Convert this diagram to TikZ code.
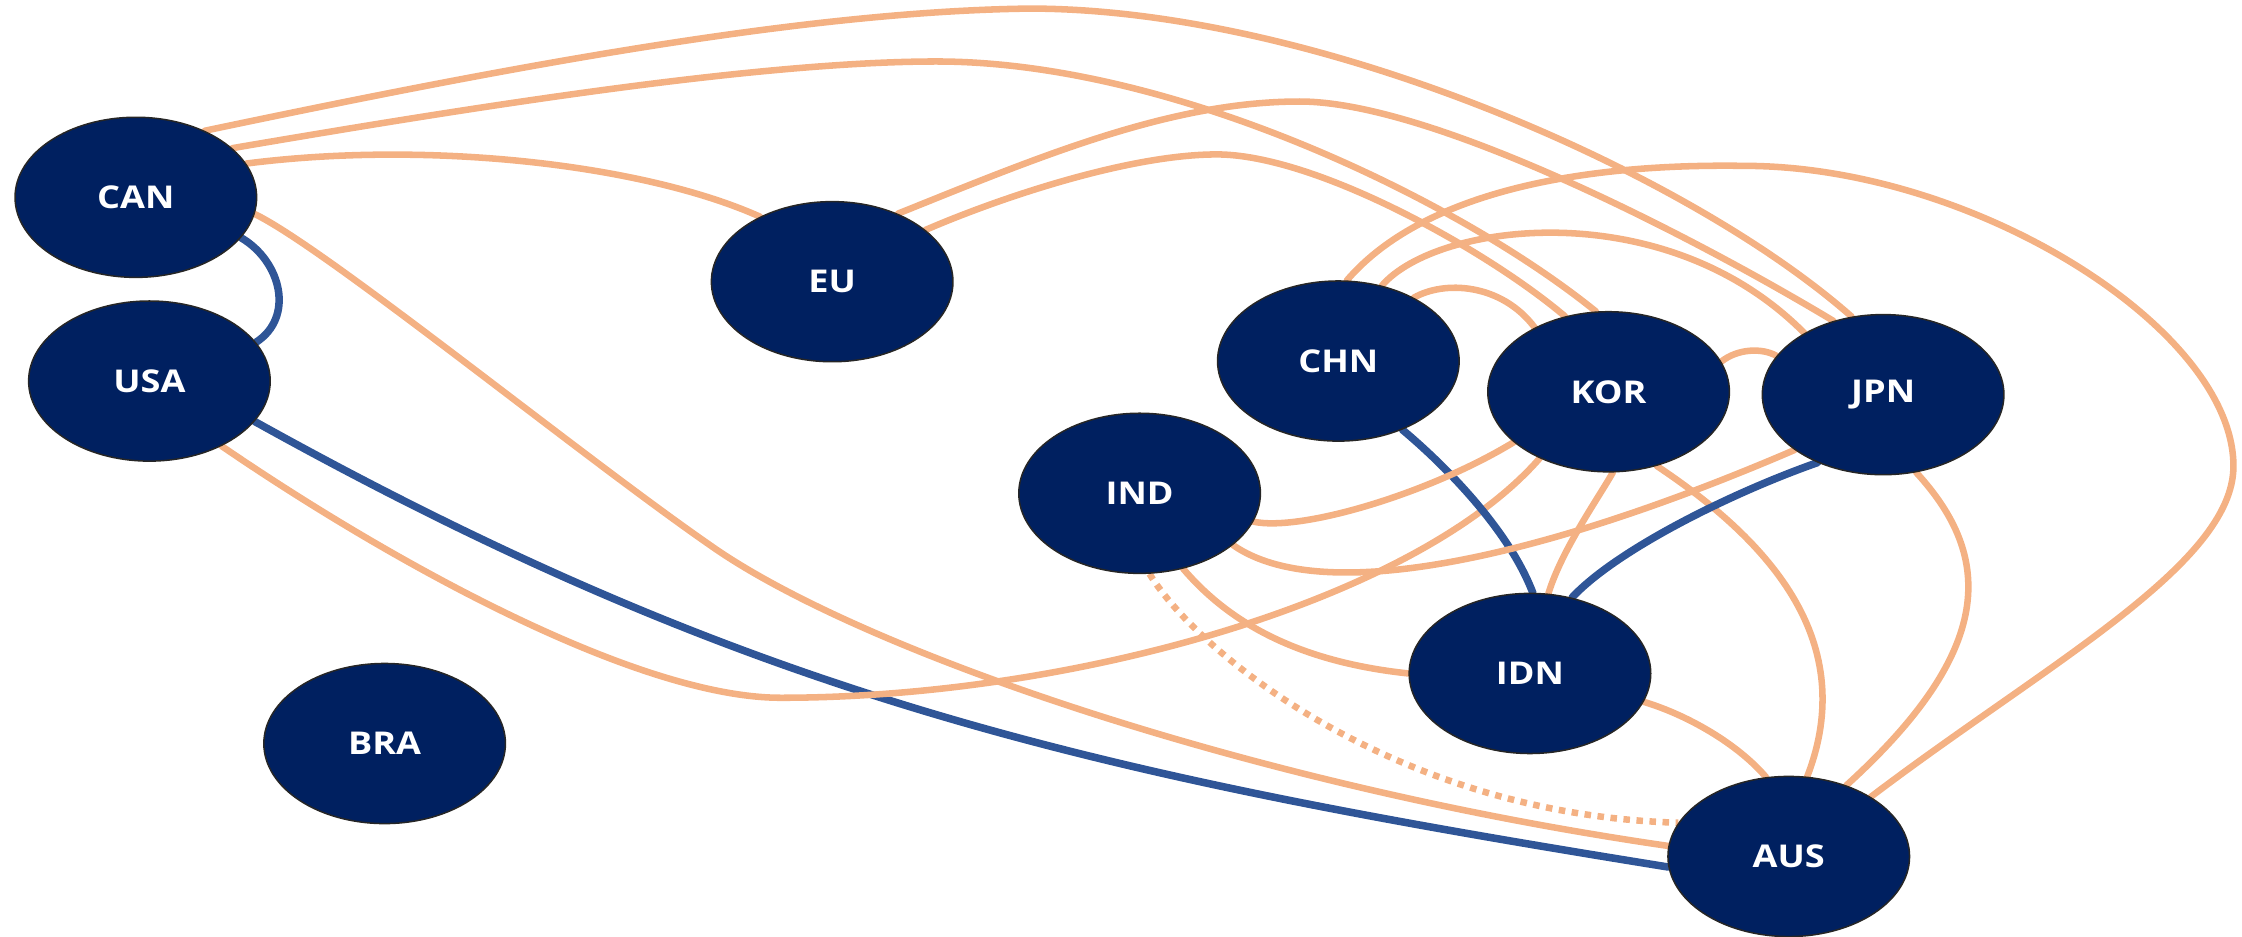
\documentclass[tikz,border=0pt]{standalone}
\usepackage{fontspec}
\setsansfont{Open Sans}
\usetikzlibrary{shapes.geometric,backgrounds}
\definecolor{navy}{RGB}{0,32,96}
\definecolor{peach}{RGB}{244,177,131}
\definecolor{linkblue}{RGB}{47,85,151}
\tikzset{
  country/.style={ellipse, fill=navy, draw=black!85, line width=0.6pt,
    minimum width=3.38cm, minimum height=2.24cm, inner sep=0pt,
    text=white, font=\sffamily\bfseries\fontsize{12.5}{14}\selectfont},
  orangelink/.style={draw=peach, line width=2.6pt, line cap=round},
  bluelink/.style={draw=linkblue, line width=3pt, line cap=round},
  dottedlink/.style={draw=peach, line width=2.6pt, dash pattern=on 2.6pt off 2.6pt}
}
\newcommand{\lbl}[1]{\scalebox{1.15}[1]{#1}}
\begin{document}
\begin{tikzpicture}[x=0.02cm, y=-0.02cm]
\useasboundingbox (0,0) rectangle (1568,655);
\node[country] (CAN) at (95,138) {\lbl{CAN}};
\node[country] (USA) at (104.5,266.5) {\lbl{USA}};
\node[country] (EU) at (582,197) {\lbl{EU}};
\node[country] (CHN) at (936,252.5) {\lbl{CHN}};
\node[country] (KOR) at (1125,274) {\lbl{KOR}};
\node[country] (JPN) at (1317,276) {\lbl{JPN}};
\node[country] (IND) at (797,345) {\lbl{IND}};
\node[country] (IDN) at (1070,471) {\lbl{IDN}};
\node[country] (BRA) at (269,520) {\lbl{BRA}};
\node[country] (AUS) at (1251,599) {\lbl{AUS}};
\coordinate (topA) at (720,6);
\coordinate (topB) at (655,43);
\coordinate (topC) at (909,71);
\coordinate (topD) at (851,108);
\coordinate (midE) at (502,385);
\coordinate (lowF) at (546,488);
\coordinate (arcG) at (1220,116);
\coordinate (arcH) at (1562,326);
\begin{pgfonlayer}{background}
% CAN links
\draw[bluelink] (CAN.-21) .. controls (197,183) and (206,222) .. (USA.20);
\draw[orangelink] (CAN.44) .. controls (350,48) and (560,8) .. (topA)
   .. controls (920,6) and (1180,120) .. (JPN.112);
\draw[orangelink] (CAN.27) .. controls (330,75) and (530,43) .. (topB)
   .. controls (820,43) and (1020,140) .. (KOR.99);
\draw[orangelink] (CAN.17) .. controls (300,98) and (450,115) .. (EU.138);
\draw[orangelink] (CAN.-8) .. controls (230,175) and (410,322) .. (midE)
   .. controls (610,458) and (880,550) .. (AUS.175);
% USA links
\draw[bluelink] (USA.-21) .. controls (529.5,490) and (767,542) .. (AUS.185);
\draw[orangelink] (USA.-42) .. controls (275,394) and (446,488) .. (lowF)
   .. controls (750,488) and (990,420) .. (KOR.224);
% EU links
\draw[orangelink] (EU.46) .. controls (728.5,109) and (819,71) .. (topC)
   .. controls (1000,71) and (1180,163) .. (JPN.124);
\draw[orangelink] (EU.29) .. controls (700,138) and (790,108) .. (topD)
   .. controls (920,108) and (1040,175) .. (KOR.120);
% CHN links
\draw[orangelink] (CHN.40) .. controls (1010,196) and (1050,198) .. (KOR.139);
\draw[orangelink] (CHN.60) .. controls (1005,155) and (1165,135) .. (JPN.142);
\draw[orangelink] (CHN.84) .. controls (990,140) and (1090,114) .. (arcG)
   .. controls (1380,116) and (1562,230) .. (arcH)
   .. controls (1562,395) and (1430,465) .. (AUS.36);
\draw[bluelink] (CHN.-47) .. controls (1010,325) and (1055,370) .. (IDN.88);
% KOR links
\draw[orangelink] (KOR.15.6) .. controls (1215,244) and (1232,243) .. (JPN.160.6);
\draw[orangelink] (KOR.-87) .. controls (1118,348) and (1092,385) .. (IDN.77);
\draw[orangelink] (KOR.-57) .. controls (1240,380) and (1300,450) .. (AUS.77);
\draw[orangelink] (IND.-14.5) .. controls (910,372) and (1000,345) .. (KOR.208);
% JPN links
\draw[orangelink] (IND.-29) .. controls (925,425) and (1080,390) .. (JPN.212);
\draw[bluelink] (JPN.226) .. controls (1210,345) and (1130,385) .. (IDN.61);
\draw[orangelink] (JPN.-67) .. controls (1395,390) and (1395,455) .. (AUS.51);
% IND links
\draw[orangelink] (IND.-60) .. controls (855,430) and (900,462) .. (IDN.180);
\draw[dottedlink] (IND.-83) .. controls (840,460) and (980,570) .. (AUS.163);
% IDN links
\draw[orangelink] (IDN.-14.7) .. controls (1180,500) and (1215,520) .. (AUS.106);
\end{pgfonlayer}
\end{tikzpicture}
\end{document}
